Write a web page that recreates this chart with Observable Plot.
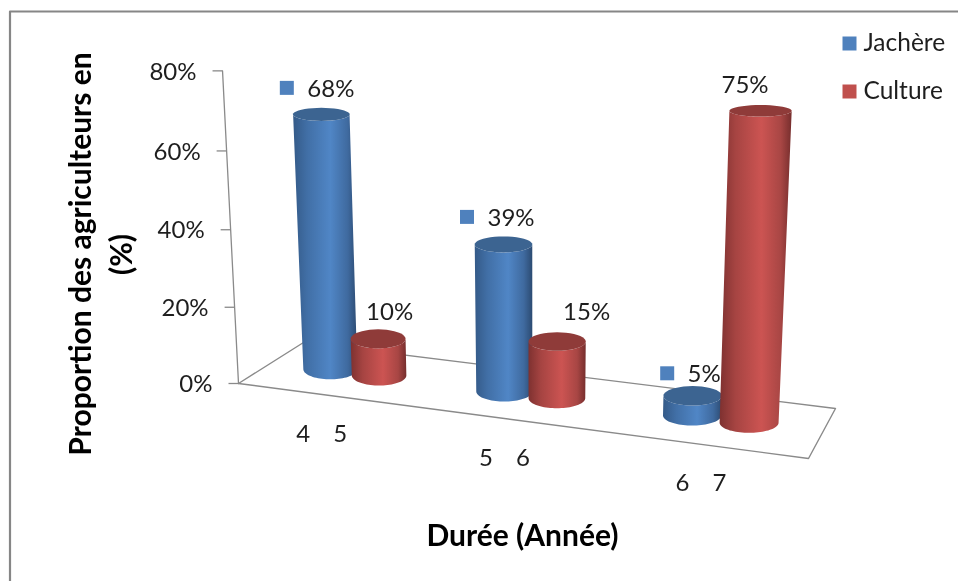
<!DOCTYPE html>
<html lang="fr">
<head>
<meta charset="utf-8">
<title>Proportion des agriculteurs</title>
<script src="https://cdn.jsdelivr.net/npm/d3@7"></script>
<script src="https://cdn.jsdelivr.net/npm/@observablehq/plot@0.6"></script>
<style>
html,body{margin:0;padding:0;background:#fff;overflow:hidden}
svg{display:block;background:#fff;filter:blur(0.35px)}
</style>
</head>
<body>
<div id="chart"></div>
<script>
// --- data ---
const seriesNames = ["Jachère", "Culture"];
const jachere = [68, 39, 5];
const culture = [10, 15, 75];
const labelsJachere = ["4", "5", "6"];
const labelsCulture = ["5", "6", "7"];
const valueTicks = [0, 20, 40, 60, 80];

// --- colours ---
const seriesColors = ["#4f81bd", "#c0504d"];
const capColors = ["#3c6491", "#8f3b39"];
const ink = "#1e1e1e";
const lineGray = "#8a8a8a";
const font = "Lato, 'Open Sans', sans-serif";

// --- perspective of the 3-D floor (page space) ---
const W = 958, H = 581;
const floor = {f0: [238, 383], f1: [808, 458], b1: [835, 408], b0: [303, 342]};
const vanishX = 535, lean = 0.000172;
const depthSkew = 1.123;
const seriesOffset = [-0.048, 0.048];
const barDepth = 0.53, barShiftX = -1.5;

const lerp = (a, b, t) => a + (b - a) * t;
function floorPoint(u, v) {
  const l = [lerp(floor.f0[0], floor.b0[0], v), lerp(floor.f0[1], floor.b0[1], v)];
  const r = [lerp(floor.f1[0], floor.b1[0], v), lerp(floor.f1[1], floor.b1[1], v)];
  return [lerp(l[0], r[0], u), lerp(l[1], r[1], u)];
}
const perspU = t => t / (t + depthSkew * (1 - t));
const groupT = i => (i + 0.5) / 3;
const rise = v => 3.78 * v + 0.0016 * v * v;
const upX = (x, h) => x + (x - vanishX) * lean * h;

function ellipseArc(cx, cy, rx, ry, a0, a1) {
  return d3.range(0, 41).map(k => {
    const a = lerp(a0, a1, k / 40);
    return {x: cx + rx * Math.cos(a), y: cy + ry * Math.sin(a)};
  });
}

function cylinder(i, s, value) {
  const [fx, by] = floorPoint(perspU(groupT(i) + seriesOffset[s]), barDepth);
  const bx = fx + barShiftX;
  const h = rise(value) * (0.964 + 5.85e-7 * (bx - 330) ** 2);
  const tx = upX(bx, h), ty = by - h;
  const brx = 25 + 0.006 * bx, bry = 10;
  const trx = brx * (1 + h * 0.00018), tryy = 10 - h * 0.0135;
  const body = [
    ...ellipseArc(bx, by, brx, bry, 0, Math.PI),
    ...ellipseArc(tx, ty, trx, tryy, Math.PI, 0)
  ];
  const cap = ellipseArc(tx, ty, trx, tryy, 0, 2 * Math.PI);
  return {body, cap, tx, ty, s, i, value};
}

const cylinders = [];
jachere.forEach((v, i) => {
  cylinders.push(cylinder(i, 0, v));
  cylinders.push(cylinder(i, 1, culture[i]));
});

// axis on the front-left corner
const axisPoint = v => {
  const h = rise(v);
  return {v, x: upX(floor.f0[0], h), y: floor.f0[1] - h};
};
const axisRows = valueTicks.map(axisPoint);

// value labels, placed by hand relative to the top of each cylinder
const labelNudgeX = [[9.5, 7.5, 11.5], [11.5, 29.5, -15.5]];
const labelNudgeY = [[-25.5, -26.5, -21.5], [-26.5, -29.5, -25.5]];
const markerGap = [44, 44, 37];
const labelRows = cylinders.map(c => ({
  x: c.tx + labelNudgeX[c.s][c.i],
  y: c.ty + labelNudgeY[c.s][c.i],
  text: c.value + "%", s: c.s, i: c.i
}));
const markerRows = labelRows.filter(d => d.s === 0).map(d => ({x: d.x - markerGap[d.i], y: d.y - 1}));

// category labels under the front edge
const catNudge = [-3, -2.5, -3];
const catRows = [];
[labelsJachere, labelsCulture].forEach((list, s) => list.forEach((text, i) => {
  const [x, y] = floorPoint(perspU(groupT(i)), 0);
  catRows.push({x: x + catNudge[i] + (s ? 18.5 : -18.5), y: y + 39, text});
}));

const legendRows = seriesNames.map((name, s) => ({name, s, x: 849, y: 43 + 48 * s}));

// gradient definitions
function gradient(id, stops) {
  return `<linearGradient id="${id}" x1="0" x2="1" y1="0" y2="0">` +
    stops.map(([o, c]) => `<stop offset="${o}" stop-color="${c}"/>`).join("") +
    `</linearGradient>`;
}
const defsMark = () => {
  const g = document.createElementNS("http://www.w3.org/2000/svg", "defs");
  g.innerHTML =
    gradient("cyl0", [[0, "#345a88"], [0.22, "#416fa6"], [0.58, "#5086c6"], [0.85, "#3f6a9f"], [1, "#2c4b72"]]) +
    gradient("cyl1", [[0, "#7e3130"], [0.22, "#a64442"], [0.58, "#cc5452"], [0.85, "#a84644"], [1, "#762e2d"]]);
  return g;
};

const textBase = {fontFamily: font, fill: ink};

const marks = [
  defsMark,
  // chart frame (top and left edges show in the picture)
  Plot.line([{x: 9.5, y: H}, {x: 9.5, y: 11}, {x: W, y: 11}], {x: "x", y: "y", stroke: "#868686", strokeWidth: 2.2}),
  // floor
  Plot.line(["f0", "f1", "b1", "b0", "f0"].map(k => ({x: floor[k][0], y: floor[k][1]})),
    {x: "x", y: "y", stroke: lineGray, strokeWidth: 1.4}),
  // value axis
  Plot.line(axisRows, {x: "x", y: "y", stroke: lineGray, strokeWidth: 1.3}),
  Plot.link(axisRows, {x1: d => d.x - 10, y1: "y", x2: "x", y2: "y", stroke: lineGray, strokeWidth: 1.3}),
  Plot.text(axisRows, {x: d => d.x - 26, y: d => d.y + 1, text: d => d.v + "%", textAnchor: "end", fontSize: 24, ...textBase}),
];

// cylinders, back to front within each group
for (const c of cylinders) {
  marks.push(Plot.line(c.body, {x: "x", y: "y", fill: `url(#cyl${c.s})`, stroke: "none", curve: "linear"}));
  marks.push(Plot.line(c.cap, {x: "x", y: "y", fill: capColors[c.s], stroke: "none", curve: "linear"}));
}

marks.push(
  Plot.text(labelRows, {x: "x", y: "y", text: "text", fontSize: 24, ...textBase}),
  Plot.dot(markerRows, {x: "x", y: "y", symbol: "square", r: 7.9, fill: seriesColors[0], stroke: "none"}),
  Plot.text(catRows, {x: "x", y: "y", text: "text", fontSize: 24, ...textBase}),
  // legend
  Plot.dot(legendRows, {x: "x", y: "y", symbol: "square", r: 7.9, fill: d => seriesColors[d.s], stroke: "none"}),
  Plot.text(legendRows, {x: d => d.x + 14, y: "y", text: "name", textAnchor: "start", fontSize: 24.5, ...textBase}),
  // axis titles
  Plot.text([{x: 81, y: 253.5, t: "Proportion des agriculteurs en"}, {x: 122, y: 254, t: "(%)"}],
    {x: "x", y: "y", text: "t", rotate: -90, fontSize: 30, fontWeight: 700, fontFamily: font, fill: "#000"}),
  Plot.text([{x: 522, y: 536, t: "Durée (Année)"}],
    {x: "x", y: "y", text: "t", fontSize: 30, fontWeight: 700, fontFamily: font, fill: "#000"})
);

const chart = Plot.plot({
  width: W, height: H,
  margin: 0,
  style: {background: "#fff"},
  x: {domain: [0, W], range: [0, W], axis: null},
  y: {domain: [0, H], range: [0, H], axis: null},
  marks
});
document.getElementById("chart").append(chart);
</script>
</body>
</html>
